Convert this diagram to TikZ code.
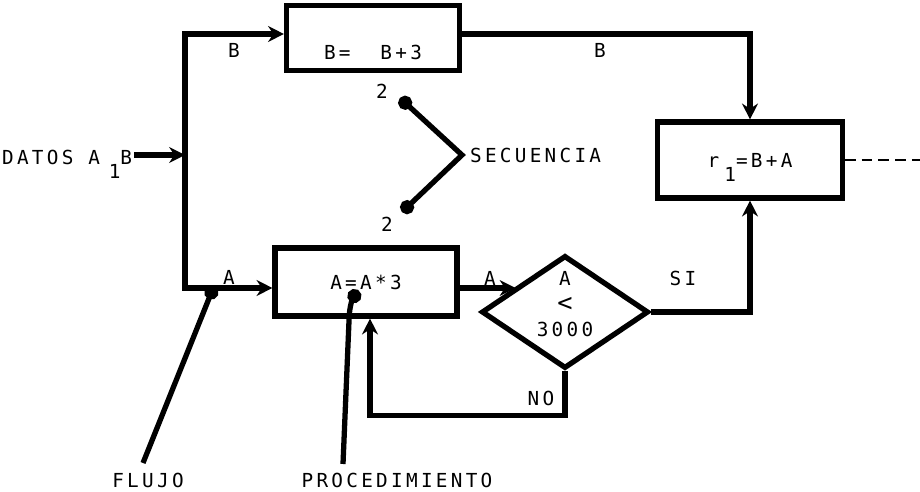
\documentclass[tikz,border=0pt]{standalone}
\usepackage{fontspec}
\newfontfamily\plotfont[LetterSpace=17]{DejaVu Sans Mono}
\usepackage{tikz}
\usetikzlibrary{
  positioning, shapes.geometric, calc, arrows, arrows.meta
}
\tikzset{
	plottext/.style={font=\fontsize{11}{14}\plotfont, inner sep=1pt}
}
\tikzset{
	procbox/.style={draw, rectangle, line width=2.9pt, plottext}
}
\tikzset{
	flow/.style={line width=2.9pt}
}
\tikzset{
	pointer/.style={line width=3pt, -{Circle[length=8pt]}}
}

\begin{document}
\begin{tikzpicture}[x=0.2mm, y=-0.2mm, >={Stealth[length=9pt,width=9pt]}]
      \useasboundingbox (0,0) rectangle (920,492);

      % the three boxes and the test
      \node[procbox, minimum width=34.6mm, minimum height=13mm,
            text height=25pt, text depth=0pt] (sumB) at (373,38) {B=\ \ B+3};
      \node[procbox, minimum width=36.4mm, minimum height=13.6mm] (mulA) at (366,282) {A=A*3};
      \node[procbox, minimum width=37mm, minimum height=15.2mm, text depth=0pt] (sumR) at (750,160)
            {r\hspace{3pt}\raisebox{-8pt}{1}=B+A};
      \node[draw, diamond, line width=3pt, aspect=1.48, inner sep=0pt,
            minimum width=33.4mm, minimum height=22.6mm] (dec) at (565,312) {};
      \node[plottext, align=center] (decText) at (565,304) {A\\[1pt]{\Large <}\\[0pt]3000};

      % input bus
      \node[plottext, anchor=west, text depth=0pt] (datos) at (0,157) {DATOS A\hspace{5pt}\raisebox{-8pt}{1}B};
      \coordinate (busT) at (185,34);
      \coordinate (busM) at (185,155);
      \coordinate (busB) at (185,288);
      \draw[flow, ->] (datos.east |- busM) -- (busM);
      \draw[flow, ->] (busM) -- (busT) -- (busT -| sumB.west);
      \draw[flow, ->] (busM) -- (busB) -- (busB -| mulA.west);

      % flow between the boxes
      \draw[flow, ->] (busT -| sumB.east) -| (sumR.north);
      \draw[flow, ->] (busB -| mulA.east) -- (busB -| dec.153);
      \draw[flow, ->] (dec.east) -| (sumR.south);
      \draw[flow, ->] (dec.south) -- ++(0,44) -| ([xshift=0.8mm]mulA.south);
      \coordinate (outEnd) at (920,160);
      \draw[line width=1.4pt, dash pattern=on 6pt off 3.5pt] (sumR.east) -- (outEnd);

      \node[plottext] (lblB1) at (234,50) {B};
      \node[plottext] (lblB2) at (600,50) {B};
      \node[plottext] (lblA1) at (229,277) {A};
      \node[plottext] (lblA2) at (490,278) {A};
      \node[plottext] (lblSI) at (683,278) {SI};
      \node[plottext] (lblNO) at (541,398) {NO};

      % secuencia
      \node[plottext, anchor=west] (secu) at (468,155) {SECUENCIA};
      \coordinate (seqV) at (462,155);
      \coordinate (seqTop) at (400,98);
      \coordinate (seqBot) at (402,212);
      \draw[line width=3pt, {Circle[length=8pt]}-{Circle[length=8pt]}] (seqTop) -- (seqV) -- (seqBot);
      \node[plottext] (twoTop) at (382,91) {2};
      \node[plottext] (twoBot) at (387,224) {2};

      % flujo and procedimiento
      \node[plottext] (flujo) at (148,480) {FLUJO};
      \node[plottext] (proc) at (397,480) {PROCEDIMIENTO};
      \coordinate (flujoFoot) at (143,463);
      \coordinate (flujoTip) at (214,286);
      \draw[pointer] (flujoFoot) -- (flujoTip);
      \coordinate (procFoot) at (343,464);
      \coordinate (procKnee) at (349,321);
      \coordinate (procTip) at (358,290);
      \draw[pointer] (procFoot) -- (procKnee) .. controls +(0,-12) and +(-6,10) .. (procTip);
    \end{tikzpicture}
\end{document}
